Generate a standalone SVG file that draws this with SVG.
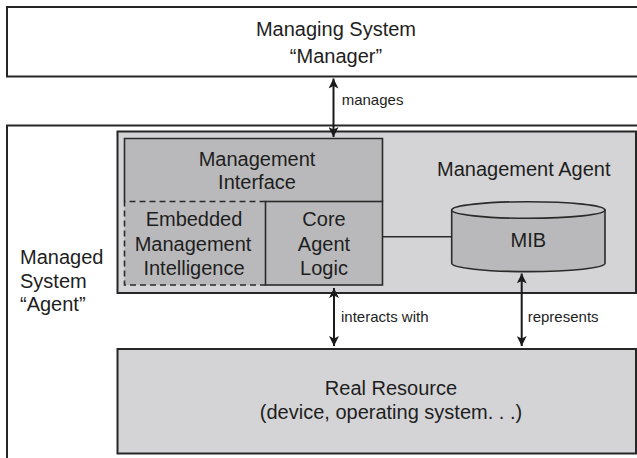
<svg xmlns="http://www.w3.org/2000/svg" width="637" height="458" viewBox="0 0 637 458">
<style>
text{font-family:"Liberation Sans",Arial,Helvetica,sans-serif;fill:#1e1e1e}
.big{font-size:20px}
.lbl{font-size:15px}
.mid{text-anchor:middle}
.box{stroke:#262626;stroke-width:2}
.inner{fill:#b9b9bb}
.thin{stroke:#2a2a2a;stroke-width:1.6;fill:none}
.dash{stroke:#2a2a2a;stroke-width:1.6;fill:none;stroke-dasharray:6 4}
.conn{stroke:#1a1a1a;stroke-width:2;fill:none}
</style>
<defs>
<marker id="ah" viewBox="0 0 10 10" refX="10" refY="5" markerWidth="5" markerHeight="5" orient="auto-start-reverse" markerUnits="strokeWidth">
<path d="M0,0 L10,5 L0,10 L2.5,5 Z" fill="#1a1a1a"/>
</marker>
</defs>
<g id="manager">
<rect class="box" x="7" y="7" width="640" height="69.5" fill="#ffffff"/>
<text class="big mid" x="336" y="36">Managing System</text>
<text class="big mid" x="336" y="62.5">“Manager”</text>
</g>
<g id="managed-system">
<rect class="box" x="7" y="125.5" width="640" height="345" fill="#ffffff"/>
<text class="big" x="20" y="264">Managed</text>
<text class="big" x="20" y="287.5">System</text>
<text class="big" x="20" y="311">“Agent”</text>
</g>
<g id="management-agent">
<rect class="box" x="117.5" y="131.5" width="518.5" height="161.5" fill="#d4d4d6"/>
<text class="big" x="437" y="176">Management Agent</text>
</g>
<g id="management-interface">
<rect class="inner" x="124.5" y="138.5" width="258" height="63"/>
<path class="thin" d="M124.5,201.5 V138.5 H382.5 V201.5"/>
<text class="big mid" x="257" y="165.5">Management</text>
<text class="big mid" x="257" y="189">Interface</text>
</g>
<g id="embedded-intelligence">
<rect class="inner" x="124.5" y="201.5" width="141" height="83.5"/>
<path class="dash" d="M265.5,201.5 H124.5 V285 H265.5"/>
<text class="big mid" x="194" y="226">Embedded</text>
<text class="big mid" x="193" y="250.5">Management</text>
<text class="big mid" x="194" y="275">Intelligence</text>
</g>
<g id="core-agent-logic">
<rect class="inner" x="265.5" y="201.5" width="117" height="83.5"/>
<rect class="thin" x="265.5" y="201.5" width="117" height="83.5"/>
<text class="big mid" x="324" y="226">Core</text>
<text class="big mid" x="324" y="250.5">Agent</text>
<text class="big mid" x="324" y="275">Logic</text>
</g>
<g id="mib">
<path d="M451.7,210 V263.3 A76.6,8.3 0 0 0 605,263.3 V210 Z" fill="#b9b9bb" stroke="#2a2a2a" stroke-width="1.6"/>
<ellipse cx="528.3" cy="210" rx="76.6" ry="8.3" fill="#c6c6c8" stroke="#2a2a2a" stroke-width="1.6"/>
<text class="big mid" x="528.3" y="247.3">MIB</text>
</g>
<g id="real-resource">
<rect class="box" x="117.5" y="349" width="518.5" height="104.5" fill="#d4d4d6"/>
<text class="big mid" x="391" y="395">Real Resource</text>
<text class="big mid" x="391" y="418.5">(device, operating system. . .)</text>
</g>
<g id="connectors">
<line class="conn" x1="333.5" y1="78.5" x2="333.5" y2="137" marker-start="url(#ah)" marker-end="url(#ah)"/>
<line class="thin" x1="382.5" y1="236.7" x2="451.7" y2="236.7"/>
<line class="conn" x1="334" y1="288" x2="334" y2="346" marker-start="url(#ah)" marker-end="url(#ah)"/>
<line class="conn" x1="521.7" y1="273.5" x2="521.7" y2="346" marker-start="url(#ah)" marker-end="url(#ah)"/>
<text class="lbl" x="341.7" y="105.3">manages</text>
<text class="lbl" x="341" y="322.3">interacts with</text>
<text class="lbl" x="527.7" y="322.3">represents</text>
</g>
</svg>
